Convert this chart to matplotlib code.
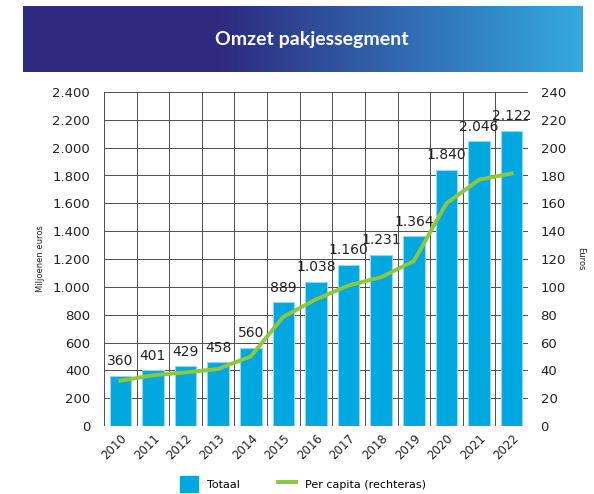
import numpy as np
import matplotlib.pyplot as plt
from matplotlib.colors import LinearSegmentedColormap
from matplotlib.lines import Line2D
from matplotlib.patches import Patch

years = ["2010", "2011", "2012", "2013", "2014", "2015", "2016",
         "2017", "2018", "2019", "2020", "2021", "2022"]
totaal = [360, 401, 429, 458, 560, 889, 1038, 1160, 1231, 1364, 1840, 2046, 2122]
per_capita = [32.5, 36.5, 38.5, 41, 50, 78.5, 91, 101, 107, 118.5, 160, 177, 181.5]

bar_color = "#00A8DF"
line_color = "#8DC63F"
grid_color = "#4d4d4d"


def fmt(v):
    return f"{v:,.0f}".replace(",", ".")


fig = plt.figure(figsize=(5.94, 4.94), dpi=100)

# title banner with gradient
ban = fig.add_axes([23 / 594, 1 - 72 / 494, 560 / 594, 66 / 494])
cmap = LinearSegmentedColormap.from_list(
    "ban", [(0, "#2E2A80"), (0.35, "#2E2A80"), (1, "#34A9E0")])
ban.imshow(np.linspace(0, 1, 256).reshape(1, -1), aspect="auto", cmap=cmap,
           extent=[0, 1, 0, 1])
ban.axis("off")
ban.text(0.515, 0.5, "Omzet pakjessegment", color="white", fontsize=14,
         fontweight="bold", family="Lato", ha="center", va="center")

ax = fig.add_axes([104 / 594, 1 - 426 / 494, 424 / 594, 334 / 494])
x = np.arange(len(years))
bars = ax.bar(x, totaal, width=0.66, color=bar_color, edgecolor="#8fd8f2",
              linewidth=0.8, zorder=3)
for xi, v in zip(x, totaal):
    ax.text(xi, v + 55, fmt(v), ha="center", va="bottom", fontsize=10,
            color="#222222", zorder=5)

ax.set_xlim(-0.5, len(years) - 0.5)
ax.set_ylim(0, 2400)
ax.set_yticks(np.arange(0, 2401, 200))
ax.set_yticklabels([fmt(v) for v in np.arange(0, 2401, 200)], fontsize=9.5,
                   color="#222222")
ax.set_xticks(x)
ax.set_xticklabels(years, rotation=45, ha="right", rotation_mode="anchor",
                   fontsize=8.5, color="#222222")
ax.tick_params(axis="y", length=0, pad=10)
ax.tick_params(axis="x", length=0, pad=4)
ax.set_xticks(np.arange(-0.5, len(years)), minor=True)
ax.tick_params(which="minor", length=0)
ax.grid(axis="y", color=grid_color, linewidth=0.7, zorder=0)
ax.grid(axis="x", which="minor", color=grid_color, linewidth=0.7, zorder=0)
ax.grid(axis="x", which="major", visible=False)
for s in ax.spines.values():
    s.set_visible(False)
ax.set_ylabel("Miljoenen euros", fontsize=6, color="#222222", labelpad=5)

ax2 = ax.twinx()
ax2.plot(x, per_capita, color=line_color, linewidth=2.8, zorder=4)
ax2.set_ylim(0, 240)
ax2.set_yticks(np.arange(0, 241, 20))
ax2.tick_params(length=0, pad=9, labelsize=9.5, labelcolor="#222222")
for s in ax2.spines.values():
    s.set_visible(False)
ax2.set_ylabel("Euros", fontsize=6, color="#222222", rotation=270,
               labelpad=14)

handles = [Patch(facecolor=bar_color, edgecolor=bar_color),
           Line2D([0], [0], color=line_color, linewidth=2.8)]
fig.legend(handles, ["Totaal", "Per capita (rechteras)"], loc="center",
           bbox_to_anchor=(0.51, 1 - 484 / 494), ncol=2, frameon=False,
           fontsize=8, handlelength=1.6, handleheight=1.8, columnspacing=3.5)

fig.savefig("out.png", dpi=100)
